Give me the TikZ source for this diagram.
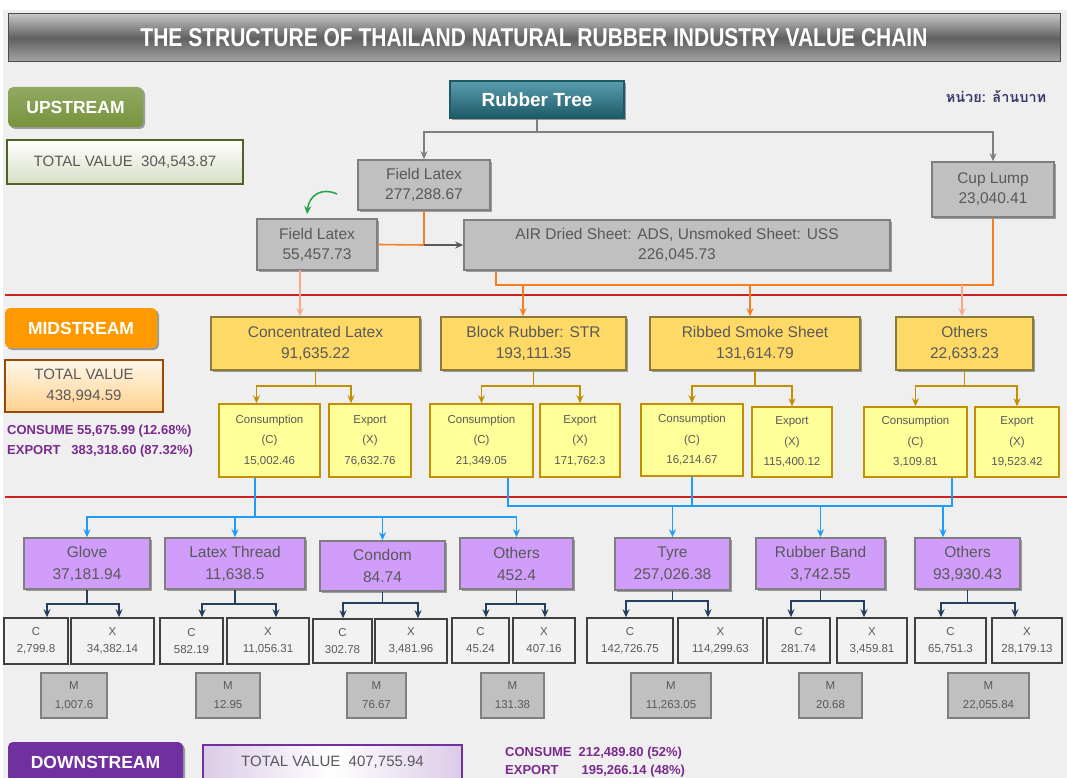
\documentclass[tikz,border=0pt]{standalone}
\usepackage{fontspec}
\setmainfont{Liberation Sans}
\newfontfamily\thaifont[Script=Thai]{Loma}
\usetikzlibrary{arrows.meta,shadows,calc}
\definecolor{cBg}{HTML}{EFEFEF}
\definecolor{cTxt}{HTML}{595959}
\definecolor{cGray}{HTML}{C0C0C0}
\definecolor{cGrayD}{HTML}{7F7F7F}
\definecolor{cYel}{HTML}{FFD966}
\definecolor{cYelD}{HTML}{8C7A3A}
\definecolor{cLty}{HTML}{FFFF99}
\definecolor{cGold}{HTML}{C09000}
\definecolor{cPur}{HTML}{D09EFA}
\definecolor{cCX}{HTML}{F2F2F2}
\definecolor{cCXD}{HTML}{404040}
\definecolor{cGreen}{HTML}{77933C}
\definecolor{cGreenD}{HTML}{4F6228}
\definecolor{cOrange}{HTML}{FF9900}
\definecolor{cBrown}{HTML}{984807}
\definecolor{cPurD}{HTML}{7030A0}
\definecolor{cPurT}{HTML}{7A2A8E}
\definecolor{cTeal}{HTML}{31849B}
\definecolor{cTealD}{HTML}{1D5A66}
\definecolor{cRed}{HTML}{CC2222}
\definecolor{cOr}{HTML}{F47F20}
\definecolor{cLOr}{HTML}{F9A98A}
\definecolor{cBlue}{HTML}{1E9BFF}
\definecolor{cNavy}{HTML}{243F60}
\definecolor{cGrn}{HTML}{22A34A}
\definecolor{cUnit}{HTML}{3B3B6B}
\newcommand\fsz[2]{\fontsize{#1}{#2}\selectfont}
\newcommand\mybox[7]{\node[#6, minimum width={(#4)-(#2)}, minimum height={(#5)-(#3)}] (#1) at ({((#2)+(#4))/2},{((#3)+(#5))/2}) {#7};}
\newcommand\myfork[6]{%
  \draw[ncon] (#1.south) -- (#1.south |- 0,#2);
  \draw[ncon,arr] (#1.south |- 0,#2) -- (#3,#2) -- (#3,#2 |- #5.north);
  \draw[ncon,arr] (#1.south |- 0,#2) -- (#4,#2) -- (#4,#2 |- #6.north);}
\begin{document}
\begin{tikzpicture}[x=1pt,y=-1pt,
  box/.style={inner sep=0pt, align=center, text=cTxt},
  sh/.style={drop shadow={shadow xshift=2pt,shadow yshift=-2pt,opacity=.35,fill=black}},
  graybox/.style={box, sh, fill=cGray, draw=cGrayD, line width=1.6pt, font=\fsz{15.5}{20}},
  yelbox/.style={box, sh, fill=cYel, draw=cYelD, line width=1.6pt, font=\fsz{15.5}{21}},
  ltybox/.style={box, fill=cLty, draw=cGold, line width=1.5pt, font=\fsz{11.5}{20.5}},
  purbox/.style={box, sh, fill=cPur, draw=cGrayD, line width=1.6pt, font=\fsz{15.5}{22}},
  cxbox/.style={box, fill=cCX, draw=cCXD, line width=1.5pt, font=\fsz{11.5}{17}},
  mbox/.style={box, fill=cGray, draw=cGrayD, line width=1.6pt, font=\fsz{11.5}{19}},
  tag/.style={inner sep=0pt, rounded corners=5pt, text=white, font=\bfseries\fsz{17.5}{20}, sh},
  totbox/.style={inner sep=0pt, align=center, text=cTxt, font=\fsz{15}{21}, line width=1.5pt},
  arr/.style={-{Stealth[length=8pt,width=7pt]}},
  gcon/.style={draw=cGrayD, line width=1.3pt},
  ocon/.style={draw=cOr, line width=1.6pt},
  locon/.style={draw=cLOr, line width=1.6pt},
  dcon/.style={draw=cTxt, line width=1.3pt},
  goldc/.style={draw=cGold, line width=1.6pt},
  bcon/.style={draw=cBlue, line width=1.5pt},
  ncon/.style={draw=cNavy, line width=1.5pt},
  gcurve/.style={draw=cGrn, line width=1.5pt}]
\useasboundingbox (0,0) rectangle (1067,778);
\fill[white] (0,0) rectangle (1067,778);
\fill[cBg] (3,10) rectangle (1067,778);
% red separators
\draw[cRed, line width=2.2pt] (5,295) -- (1067,295);
\draw[cRed, line width=2.2pt] (5,497) -- (1067,497);
% title
\mybox{title}{8}{14}{1060}{62}{inner sep=0pt, top color=gray!45, bottom color=gray!70, middle color=gray!75!black, draw=gray!60!black, line width=1pt, text=white}{\resizebox{787pt}{18pt}{\bfseries THE STRUCTURE OF THAILAND NATURAL RUBBER INDUSTRY VALUE CHAIN}}
% upstream
\mybox{up}{8}{87}{143}{127}{tag, top color=cGreen!80!white, bottom color=cGreen}{UPSTREAM}
\mybox{upt}{7}{140}{243}{184}{totbox, draw=cGreenD, top color=white, bottom color=cGreen!30!white}{TOTAL VALUE\ \ 304,543.87}
\mybox{tree}{450}{81}{624}{118}{inner sep=0pt, sh, top color=cTeal!80!white, bottom color=cTealD, draw=cTealD, line width=1.2pt, text=white, font=\bfseries\fsz{19}{22}}{Rubber Tree}
\node[font=\thaifont\bfseries\fsz{14.5}{16}, text=cUnit, inner sep=0pt] (unit) at (996,96) {หน่วย: ล้านบาท};
\mybox{fl1}{358}{160}{490}{210}{graybox}{Field Latex\\277,288.67}
\mybox{cup}{932}{162}{1054}{217}{graybox}{Cup Lump\\23,040.41}
\mybox{fl2}{257}{219}{377}{270}{graybox}{Field Latex\\55,457.73}
\mybox{air}{464}{220}{890}{270}{graybox}{AIR Dried Sheet: ADS, Unsmoked Sheet: USS\\226,045.73}
% midstream
\mybox{mid}{5}{308}{157}{348}{tag, fill=cOrange}{MIDSTREAM}
\mybox{midt}{5}{360}{163}{412}{totbox, draw=cBrown, top color=cOrange!8!white, bottom color=cOrange!45!white}{TOTAL VALUE\\438,994.59}
\node[anchor=west, align=left, inner sep=0pt, text=cPurT, font=\bfseries\fsz{13}{20}] (mids) at (7,441) {CONSUME 55,675.99 (12.68\%)\\EXPORT\ \ \ 383,318.60 (87.32\%)};
\mybox{cl}{211}{317}{420}{370}{yelbox}{Concentrated Latex\\91,635.22}
\mybox{br}{441}{317}{626}{370}{yelbox}{Block Rubber: STR\\193,111.35}
\mybox{rss}{650}{317}{860}{370}{yelbox}{Ribbed Smoke Sheet\\131,614.79}
\mybox{oth}{896}{317}{1033}{370}{yelbox}{Others\\22,633.23}
\mybox{c1}{219}{404}{320}{477}{ltybox}{Consumption\\(C)\\15,002.46}
\mybox{e1}{329}{404}{411}{477}{ltybox}{Export\\(X)\\76,632.76}
\mybox{c2}{430}{404}{533}{477}{ltybox}{Consumption\\(C)\\21,349.05}
\mybox{e2}{540}{404}{620}{477}{ltybox}{Export\\(X)\\171,762.3}
\mybox{c3}{641}{404}{743}{476}{ltybox}{Consumption\\(C)\\16,214.67}
\mybox{e3}{752}{407}{832}{477}{ltybox}{Export\\(X)\\115,400.12}
\mybox{c4}{864}{407}{967}{477}{ltybox}{Consumption\\(C)\\3,109.81}
\mybox{e4}{975}{407}{1059}{477}{ltybox}{Export\\(X)\\19,523.42}
% downstream products
\mybox{glove}{24}{538}{150}{589}{purbox}{Glove\\37,181.94}
\mybox{lt}{165}{538}{305}{589}{purbox}{Latex Thread\\11,638.5}
\mybox{cond}{320}{541}{445}{591}{purbox}{Condom\\84.74}
\mybox{oa}{460}{538}{573}{589}{purbox}{Others\\452.4}
\mybox{tyre}{615}{538}{730}{590}{purbox}{Tyre\\257,026.38}
\mybox{rb}{756}{538}{885}{589}{purbox}{Rubber Band\\3,742.55}
\mybox{ob}{915}{538}{1020}{589}{purbox}{Others\\93,930.43}
% C / X boxes
\mybox{gc}{4}{618}{68}{664}{cxbox}{C\\2,799.8}
\mybox{gx}{71}{618}{154}{664}{cxbox}{X\\34,382.14}
\mybox{ltc}{160}{618}{223}{664}{cxbox}{C\\582.19}
\mybox{ltx}{227}{618}{309}{664}{cxbox}{X\\11,056.31}
\mybox{cc}{313}{619}{372}{663}{cxbox}{C\\302.78}
\mybox{cx}{375}{619}{447}{663}{cxbox}{X\\3,481.96}
\mybox{oac}{452}{618}{509}{663}{cxbox}{C\\45.24}
\mybox{oax}{513}{618}{575}{663}{cxbox}{X\\407.16}
\mybox{tc}{587}{618}{673}{663}{cxbox}{C\\142,726.75}
\mybox{tx}{678}{618}{763}{663}{cxbox}{X\\114,299.63}
\mybox{rc}{767}{618}{830}{663}{cxbox}{C\\281.74}
\mybox{rx}{837}{618}{907}{663}{cxbox}{X\\3,459.81}
\mybox{obc}{915}{618}{986}{663}{cxbox}{C\\65,751.3}
\mybox{obx}{992}{618}{1062}{663}{cxbox}{X\\28,179.13}
% M boxes
\mybox{gm}{41}{673}{107}{718}{mbox}{M\\1,007.6}
\mybox{ltm}{196}{673}{260}{718}{mbox}{M\\12.95}
\mybox{cm}{347}{673}{406}{718}{mbox}{M\\76.67}
\mybox{oam}{481}{673}{544}{718}{mbox}{M\\131.38}
\mybox{tm}{631}{673}{711}{718}{mbox}{M\\11,263.05}
\mybox{rm}{799}{673}{862}{718}{mbox}{M\\20.68}
\mybox{obm}{948}{673}{1029}{718}{mbox}{M\\22,055.84}
% bottom
\mybox{down}{8}{742}{183}{782}{tag, fill=cPurD}{DOWNSTREAM}
\mybox{downt}{203}{745}{462}{779}{totbox, draw=cPurD, left color=cPurD!25!white, right color=cPurD!25!white, middle color=white}{TOTAL VALUE\ \ 407,755.94}
\node[anchor=west, inner sep=0pt, text=cPurT, font=\bfseries\fsz{13}{19}] (downs) at (505,762) {\begin{tabular}{@{}l@{\hspace{7pt}}l@{}}CONSUME & 212,489.80 (52\%)\\[-1pt] EXPORT & \hspace{3pt}195,266.14 (48\%)\end{tabular}};
% ---------- connectors ----------
\coordinate (j1) at (537,132);
\draw[gcon,arr] (tree.south) -- (j1) -| (fl1.north);
\draw[gcon,arr] (j1) -| (cup.north);
\coordinate (j2) at (424,245);
\draw[ocon] (fl1.south) -- (j2) -- (fl2.east);
\draw[dcon,arr] (j2) -- (air.west);
\draw[gcurve,arr] (337,194) .. controls (322,187) and (309,195) .. (307,214);
\coordinate (a0) at (300,270);
\draw[locon,arr] (a0) -- (a0 |- cl.north);
\coordinate (h3) at (993,285);
\draw[ocon] ([xshift=33pt]air.south west) |- (h3) -- (cup.south);
\coordinate (a1) at (523,285);
\draw[ocon,arr] (a1) -- (a1 |- br.north);
\coordinate (a2) at (750,285);
\draw[ocon,arr] (a2) -- (a2 |- rss.north);
\coordinate (a3) at (962,285);
\draw[locon,arr] (a3) -- (a3 |- oth.north);
% gold forks
\draw[goldc,arr] (cl.south) -- ++(0,15) -| ([xshift=-13pt]c1.north);
\draw[goldc,arr] (cl.south) ++(0,15) -| ([xshift=-19pt]e1.north);
\draw[goldc,arr] (br.south) -- ++(0,15) -| (c2.north);
\draw[goldc,arr] (br.south) ++(0,15) -| (e2.north);
\draw[goldc,arr] (rss.south) -- ++(0,15) -| (c3.north);
\draw[goldc,arr] (rss.south) ++(0,15) -| (e3.north);
\draw[goldc,arr] (oth.south) -- ++(0,15) -| (c4.north);
\draw[goldc,arr] (oth.south) ++(0,15) -| (e4.north);
% blue
\coordinate (b1) at (255,517);
\draw[bcon] ([xshift=-14.5pt]c1.south) -- (b1);
\draw[bcon,arr] (b1) -| (glove.north);
\draw[bcon,arr] (b1) -| (lt.north);
\draw[bcon,arr] (b1) -| (cond.north);
\draw[bcon,arr] (b1) -| (oa.north);
\coordinate (h4) at (952,506);
\draw[bcon] ([xshift=26.5pt]c2.south) |- (h4) -- ([xshift=36.5pt]c4.south);
\draw[bcon] (c3.south) -- (c3.south |- h4);
\draw[bcon,arr] (tyre.north |- h4) -- (tyre.north);
\draw[bcon,arr] (rb.north |- h4) -- (rb.north);
\coordinate (t3) at (943,506);
\draw[bcon,arr] (t3) -- (t3 |- ob.north);
% navy forks
\myfork{glove}{604}{47}{119}{gc}{gx}
\myfork{lt}{604}{202}{276}{ltc}{ltx}
\myfork{cond}{603}{343}{418}{cc}{cx}
\myfork{oa}{604}{486}{545}{oac}{oax}
\myfork{tyre}{601}{626}{708}{tc}{tx}
\myfork{rb}{601}{791}{864}{rc}{rx}
\myfork{ob}{603}{941}{1015}{obc}{obx}
\end{tikzpicture}
\end{document}
